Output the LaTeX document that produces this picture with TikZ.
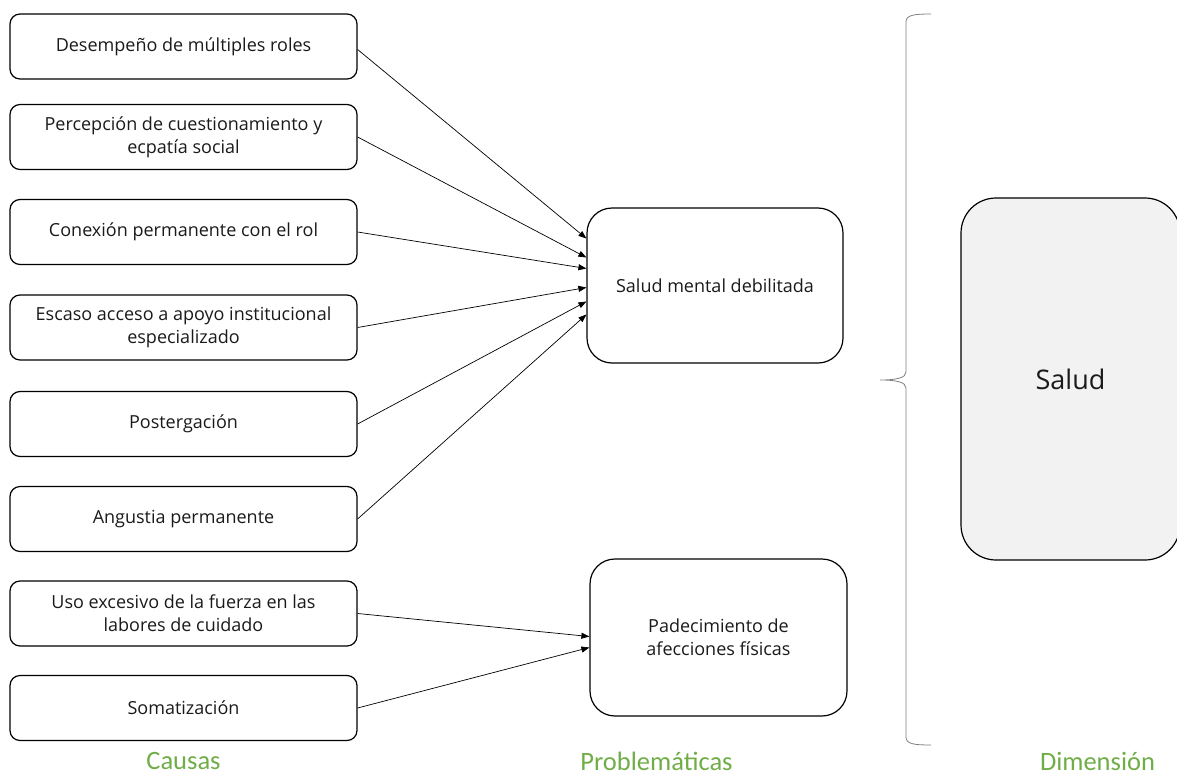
\documentclass[tikz,border=0pt]{standalone}
\usepackage{fontspec}
\setmainfont{Open Sans}
\newfontfamily\headfont{Carlito}
\usetikzlibrary{arrows.meta,calc}
\definecolor{labelgreen}{HTML}{70AD47}
\definecolor{boxgray}{HTML}{F2F2F2}
\definecolor{inktext}{HTML}{1A1A1A}
\begin{document}
\begin{tikzpicture}[x=1pt,y=-1pt,
  causebox/.style={draw=black,line width=1.2pt,rounded corners=10pt,minimum width=347pt,minimum height=65pt,align=center,text=inktext,font=\fontsize{18}{23}\selectfont,inner sep=0pt},
  probbox/.style={draw=black,line width=1.2pt,rounded corners=25pt,minimum width=256pt,minimum height=155pt,align=center,text=inktext,font=\fontsize{18}{23}\selectfont,inner sep=0pt},
  dimbox/.style={draw=black,line width=1.2pt,fill=boxgray,rounded corners=35pt,minimum width=219pt,minimum height=362pt,align=center,text=inktext,font=\fontsize{27}{32}\selectfont,inner sep=0pt},
  heading/.style={text=labelgreen,font=\headfont\fontsize{26.5}{30}\selectfont,inner sep=0pt},
  link/.style={line width=0.7pt,-{Triangle[length=8pt,width=6pt]}}
]
\useasboundingbox (0,0) rectangle (1177,776);

% causes
\node[causebox] (c1) at (183.5,46.5) {Desempeño de múltiples roles};
\node[causebox] (c2) at (183.5,137) {Percepción de cuestionamiento y\\ecpatía social};
\node[causebox] (c3) at (183.5,232) {Conexión permanente con el rol};
\node[causebox] (c4) at (183.5,327.5) {Escaso acceso a apoyo institucional\\especializado};
\node[causebox] (c5) at (183.5,424) {Postergación};
\node[causebox] (c6) at (183.5,519) {Angustia permanente};
\node[causebox] (c7) at (183.5,613.5) {Uso excesivo de la fuerza en las\\labores de cuidado};
\node[causebox] (c8) at (183.5,708) {Somatización};

% problems
\node[probbox] (sm) at (715,285.5) {Salud mental debilitada};
\node[probbox,minimum width=257pt,minimum height=157pt] (pa) at (718.5,637.5) {Padecimiento de\\afecciones físicas};

% dimension
\node[dimbox] (dim) at (1070.5,379) {Salud};

% arrow entry points on the problem boxes
\coordinate (s1) at ($(sm.west)+(0,-47)$);
\coordinate (s2) at ($(sm.west)+(0,-28)$);
\coordinate (s3) at ($(sm.west)+(0,-17)$);
\coordinate (s4) at ($(sm.west)+(0,2)$);
\coordinate (s5) at ($(sm.west)+(0,16)$);
\coordinate (s6) at ($(sm.west)+(0,29)$);
\coordinate (p1) at ($(pa.west)+(0,-1)$);
\coordinate (p2) at ($(pa.west)+(0,10)$);

\draw[link] ($(c1.east)+(0,3)$) -- (s1);
\draw[link] (c2.east) -- (s2);
\draw[link] (c3.east) -- (s3);
\draw[link] (c4.east) -- (s4);
\draw[link] (c5.east) -- (s5);
\draw[link] (c6.east) -- (s6);
\draw[link] (c7.east) -- (p1);
\draw[link] (c8.east) -- (p2);

% brace
\draw[gray,line width=0.8pt]
  (931,14) .. controls (914,14) and (906,15) .. (906,22)
  -- (906,372) .. controls (906,378) and (896,380) .. (880,380)
  .. controls (896,380) and (906,382) .. (906,388)
  -- (906,737) .. controls (906,744) and (914,745) .. (931,745);

% column headings
\node[heading] (h1) at (183.5,761) {Causas};
\node[heading] (h2) at (656.5,761) {Problemáticas};
\node[heading] (h3) at (1097.5,761) {Dimensión};
\end{tikzpicture}
\end{document}
